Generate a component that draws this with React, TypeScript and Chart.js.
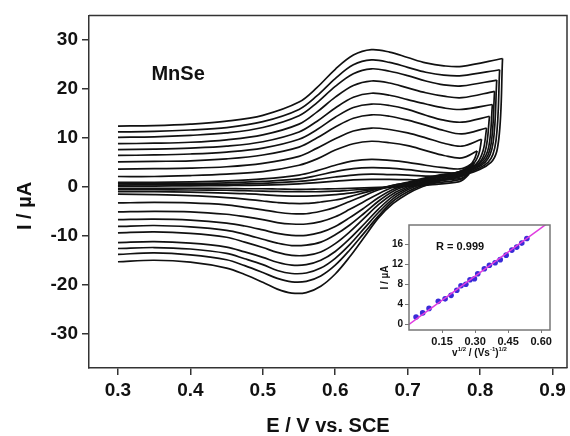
import React, { useEffect, useRef } from "react";
import { Chart, registerables } from "chart.js";
Chart.register(...registerables);

const FONT = "'Liberation Sans', Arial, Helvetica, sans-serif";

// ---- main CV data (E / V vs. SCE, I / µA) ----
const potentialForward = [0.30, 0.35, 0.40, 0.45, 0.50, 0.55, 0.575, 0.60, 0.625, 0.65, 0.675, 0.70, 0.725, 0.75, 0.775];
const potentialReverse = [0.77, 0.74, 0.72, 0.70, 0.68, 0.66, 0.64, 0.62, 0.60, 0.58, 0.56, 0.54, 0.52, 0.50, 0.475, 0.45, 0.40, 0.35, 0.30];

const vertexPotential = [0.831, 0.827, 0.823, 0.820, 0.817, 0.813, 0.809, 0.802, 0.796, 0.792, 0.790, 0.788, 0.786];
const vertexCurrent = [26.2, 23.9, 21.8, 19.5, 16.8, 14.4, 12.0, 9.7, 7.3, 5.0, 4.2, 3.6, 3.0];
const dropPotential = [0.826, 0.822, 0.818, 0.815, 0.812, 0.808, 0.804, 0.798, 0.792, 0.789, 0.787, 0.785, 0.783];
const dropCurrent = [10.0, 9.5, 9.0, 8.6, 8.2, 7.8, 7.3, 6.6, 5.6, 4.3, 3.5, 2.9, 2.3];
const kneePotential = [0.815, 0.811, 0.807, 0.804, 0.801, 0.798, 0.794, 0.789, 0.785, 0.783, 0.781, 0.779, 0.777];
const kneeCurrent = [5.0, 5.0, 5.0, 5.0, 5.0, 4.8, 4.6, 4.4, 4.2, 3.4, 2.6, 2.0, 1.5];

const anodicCurrents = [
  [12.4, 12.5, 12.8, 13.4, 14.6, 17.3, 20.3, 24.0, 26.9, 28.0, 27.5, 26.4, 25.3, 24.7, 24.6],
  [11.2, 11.3, 11.6, 12.1, 13.3, 15.8, 18.6, 22.1, 24.9, 25.9, 25.4, 24.4, 23.4, 22.8, 22.7],
  [10.1, 10.2, 10.5, 11.0, 12.1, 14.5, 17.2, 20.5, 23.1, 24.1, 23.6, 22.7, 21.6, 20.8, 20.6],
  [8.8, 8.9, 9.1, 9.6, 10.6, 12.8, 15.3, 18.3, 20.7, 21.6, 21.2, 20.2, 19.2, 18.5, 18.2],
  [7.6, 7.7, 7.9, 8.3, 9.2, 11.2, 13.4, 16.1, 18.3, 19.1, 18.7, 17.8, 16.9, 16.1, 15.8],
  [6.4, 6.5, 6.7, 7.1, 7.9, 9.7, 11.7, 14.2, 16.2, 16.9, 16.6, 15.8, 14.6, 13.6, 13.2],
  [5.1, 5.2, 5.3, 5.7, 6.5, 8.1, 10.0, 12.2, 14.0, 14.7, 14.4, 13.6, 12.6, 11.5, 10.8],
  [3.6, 3.7, 3.8, 4.1, 4.8, 6.2, 7.9, 9.8, 11.4, 12.0, 11.7, 11.0, 10.0, 8.9, 8.3],
  [2.1, 2.1, 2.3, 2.6, 3.1, 4.4, 5.7, 7.5, 8.8, 9.3, 9.0, 8.4, 7.4, 6.4, 5.9],
  [0.9, 0.9, 1.0, 1.2, 1.6, 2.4, 3.3, 4.4, 5.3, 5.6, 5.4, 5.0, 4.4, 3.9, 3.7],
  [0.6, 0.6, 0.7, 0.8, 1.1, 1.6, 2.3, 3.1, 3.7, 3.9, 3.8, 3.5, 3.1, 2.9, 2.9],
  [0.35, 0.4, 0.4, 0.5, 0.7, 1.1, 1.5, 2.0, 2.4, 2.6, 2.5, 2.4, 2.2, 2.1, 2.3],
  [0.15, 0.15, 0.2, 0.25, 0.35, 0.6, 0.85, 1.15, 1.4, 1.5, 1.5, 1.45, 1.4, 1.5, 1.8],
];

const cathodicCurrents = [
  [2.0, 1.0, 0.0, -1.4, -3.4, -6.3, -10.3, -14.3, -17.8, -20.3, -21.6, -21.7, -20.9, -19.5, -17.9, -16.6, -15.4, -15.0, -15.3],
  [2.2, 1.2, 0.3, -1.0, -2.9, -5.9, -9.4, -12.9, -16.0, -18.2, -19.3, -19.4, -18.7, -17.5, -16.1, -14.9, -13.9, -13.5, -13.8],
  [2.4, 1.4, 0.6, -0.6, -2.4, -5.2, -8.5, -11.8, -14.6, -16.6, -17.6, -17.7, -17.1, -15.9, -14.7, -13.6, -12.7, -12.4, -12.6],
  [2.6, 1.6, 0.8, -0.3, -1.9, -4.5, -7.6, -10.6, -13.2, -15.0, -15.9, -16.0, -15.4, -14.4, -13.3, -12.3, -11.5, -11.2, -11.4],
  [2.8, 1.8, 1.0, 0.0, -1.4, -3.6, -6.4, -9.2, -11.6, -13.3, -14.0, -14.0, -13.4, -12.4, -11.3, -10.3, -9.5, -9.2, -9.4],
  [2.9, 2.0, 1.2, 0.3, -0.9, -2.9, -5.4, -7.8, -9.8, -11.3, -11.9, -12.0, -11.5, -10.7, -9.7, -8.9, -8.2, -7.9, -8.1],
  [3.0, 2.1, 1.4, 0.5, -0.5, -2.2, -4.3, -6.3, -8.1, -9.3, -9.9, -9.9, -9.5, -8.8, -8.0, -7.4, -6.8, -6.6, -6.7],
  [3.0, 2.2, 1.5, 0.7, -0.1, -1.4, -3.0, -4.6, -6.1, -7.1, -7.6, -7.6, -7.3, -6.7, -6.1, -5.6, -5.1, -5.0, -5.1],
  [3.0, 2.3, 1.7, 0.9, 0.3, -0.6, -1.8, -3.0, -4.2, -5.0, -5.5, -5.5, -5.2, -4.7, -4.2, -3.7, -3.3, -3.2, -3.3],
  [2.6, 1.9, 1.4, 0.8, 0.3, -0.4, -1.2, -2.0, -2.7, -3.1, -3.4, -3.4, -3.2, -2.9, -2.5, -2.2, -1.8, -1.6, -1.5],
  [1.9, 1.2, 0.8, 0.4, 0.1, -0.3, -0.8, -1.3, -1.6, -1.8, -1.9, -1.9, -1.8, -1.6, -1.4, -1.3, -1.1, -1.0, -1.0],
  [1.4, 0.8, 0.5, 0.2, 0.0, -0.3, -0.5, -0.7, -0.9, -1.0, -1.0, -1.0, -0.95, -0.9, -0.8, -0.7, -0.65, -0.6, -0.6],
  [1.0, 0.5, 0.3, 0.1, 0.0, -0.1, -0.2, -0.3, -0.4, -0.45, -0.5, -0.5, -0.45, -0.4, -0.4, -0.35, -0.3, -0.3, -0.3],
];

const mainXTicks = [0.3, 0.4, 0.5, 0.6, 0.7, 0.8, 0.9];
const mainYTicks = [-30, -20, -10, 0, 10, 20, 30];
const mainXTitle = "E / V vs. SCE";
const mainYTitle = "I / µA";
const sampleLabel = "MnSe";

// ---- inset data ----
const sqrtScanRate = [0.032, 0.062, 0.091, 0.133, 0.164, 0.191, 0.217, 0.236, 0.258, 0.277, 0.297, 0.312, 0.342, 0.365, 0.391, 0.414, 0.441, 0.467, 0.489, 0.512, 0.535];
const peakCurrent = [1.5, 2.3, 3.2, 4.6, 5.1, 5.8, 6.8, 7.7, 8.0, 8.9, 9.1, 10.1, 11.1, 11.8, 12.3, 12.9, 13.8, 14.8, 15.4, 16.2, 17.1];
const fitX = [0, 0.64];
const fitY = [0, 20.5];
const insetXTicks = [0.15, 0.30, 0.45, 0.60];
const insetYTicks = [0, 4, 8, 12, 16];
const insetYTitle = "I / µA";
const fitLabel = "R = 0.999";

function forwardBranch(k: number) {
  const pts: { x: number; y: number }[] = potentialForward.map((e, i) => ({ x: e, y: anodicCurrents[k][i] }));
  pts.push({ x: vertexPotential[k], y: vertexCurrent[k] });
  return pts;
}

function reverseBranch(k: number) {
  const pts: { x: number; y: number }[] = [
    { x: vertexPotential[k], y: vertexCurrent[k] },
    { x: dropPotential[k], y: dropCurrent[k] },
    { x: kneePotential[k], y: kneeCurrent[k] },
  ];
  potentialReverse.forEach((e, i) => pts.push({ x: e, y: cathodicCurrents[k][i] }));
  return pts;
}

const mainDecor = {
  id: "mainDecor",
  afterDraw(chart: any) {
    const { ctx, chartArea: a } = chart;
    ctx.save();
    ctx.strokeStyle = "#333";
    ctx.lineWidth = 1.5;
    ctx.beginPath();
    ctx.moveTo(a.left, a.top);
    ctx.lineTo(a.right, a.top);
    ctx.lineTo(a.right, a.bottom);
    ctx.stroke();
    ctx.fillStyle = "#111";
    ctx.font = `bold 20px ${FONT}`;
    ctx.textAlign = "center";
    ctx.textBaseline = "middle";
    ctx.fillText(sampleLabel, chart.scales.x.getPixelForValue(0.383), chart.scales.y.getPixelForValue(22.9));
    ctx.translate(25, 206);
    ctx.rotate(-Math.PI / 2);
    ctx.fillText(mainYTitle, 0, 0);
    ctx.restore();
  },
};

const insetDecor = {
  id: "insetDecor",
  afterDraw(chart: any) {
    const { ctx, chartArea: a } = chart;
    ctx.save();
    ctx.strokeStyle = "#777";
    ctx.lineWidth = 1.5;
    ctx.strokeRect(a.left, a.top, a.right - a.left, a.bottom - a.top);
    ctx.fillStyle = "#111";
    ctx.textBaseline = "middle";
    ctx.textAlign = "center";
    ctx.font = `bold 11px ${FONT}`;
    ctx.fillText(fitLabel, chart.scales.x.getPixelForValue(0.232), chart.scales.y.getPixelForValue(15.4));
    const parts: [string, boolean][] = [["v", false], ["1/2", true], [" / (Vs", false], ["-1", true], [")", false], ["1/2", true]];
    const big = `bold 10px ${FONT}`;
    const small = `bold 6px ${FONT}`;
    let total = 0;
    parts.forEach(([t, s]) => { ctx.font = s ? small : big; total += ctx.measureText(t).width; });
    let x = (a.left + a.right) / 2 - total / 2;
    const y = 138;
    ctx.textAlign = "left";
    parts.forEach(([t, s]) => {
      ctx.font = s ? small : big;
      ctx.fillText(t, x, s ? y - 4 : y);
      x += ctx.measureText(t).width;
    });
    ctx.restore();
  },
};

export default function App() {
  const mainRef = useRef<HTMLCanvasElement>(null);
  const insetRef = useRef<HTMLCanvasElement>(null);

  useEffect(() => {
    const tickFont = { family: FONT, size: 19, weight: "bold" as const };
    const lineStyle = { showLine: true, borderColor: "#111", borderWidth: 1.7, pointRadius: 0, tension: 0.35, fill: false };
    const datasets: any[] = [];
    anodicCurrents.forEach((_, k) => {
      datasets.push({ ...lineStyle, data: forwardBranch(k) });
      datasets.push({ ...lineStyle, data: reverseBranch(k) });
    });

    const main = new Chart(mainRef.current!, {
      type: "scatter",
      data: { datasets },
      options: {
        responsive: false,
        devicePixelRatio: 1,
        animation: false,
        layout: { padding: { left: 0, right: 33, top: 14, bottom: 0 } },
        plugins: { legend: { display: false }, tooltip: { enabled: false } },
        scales: {
          x: {
            type: "linear",
            min: 0.26,
            max: 0.92,
            afterFit: (s: any) => { s.height = 68; },
            afterBuildTicks: (s: any) => { s.ticks = mainXTicks.map((v) => ({ value: v })); },
            ticks: { font: tickFont, color: "#111", padding: 4, maxRotation: 0, autoSkip: false, callback: (v: any) => Number(v).toFixed(1) },
            grid: { drawOnChartArea: false, tickLength: 7, color: "#333", lineWidth: 1.5 },
            border: { display: true, color: "#333", width: 1.5 },
            title: { display: true, text: mainXTitle, color: "#111", font: { family: FONT, size: 20, weight: "bold", lineHeight: 1 }, padding: { top: 0, bottom: 0 } },
          },
          y: {
            type: "linear",
            min: -37,
            max: 35,
            afterFit: (s: any) => { s.width = 89; },
            afterBuildTicks: (s: any) => { s.ticks = mainYTicks.map((v) => ({ value: v })); },
            ticks: { font: tickFont, color: "#111", padding: 4, autoSkip: false, callback: (v: any) => String(v) },
            grid: { drawOnChartArea: false, tickLength: 7, color: "#333", lineWidth: 1.5 },
            border: { display: true, color: "#333", width: 1.5 },
          },
        },
      },
      plugins: [mainDecor],
    });

    const inset = new Chart(insetRef.current!, {
      type: "scatter",
      data: {
        datasets: [
          {
            data: fitX.map((x, i) => ({ x, y: fitY[i] })),
            showLine: true,
            borderColor: "#e03ce0",
            borderWidth: 1.5,
            pointRadius: 0,
          },
          {
            data: sqrtScanRate.map((x, i) => ({ x, y: peakCurrent[i] })),
            showLine: false,
            pointRadius: 2.8,
            pointBackgroundColor: "#3a2bd8",
            pointBorderWidth: 0,
          },
        ],
      },
      options: {
        responsive: false,
        devicePixelRatio: 1,
        animation: false,
        layout: { padding: { left: 0, right: 20, top: 10, bottom: 0 } },
        plugins: { legend: { display: false }, tooltip: { enabled: false } },
        scales: {
          x: {
            type: "linear",
            min: 0,
            max: 0.64,
            afterFit: (s: any) => { s.height = 35; },
            afterBuildTicks: (s: any) => { s.ticks = insetXTicks.map((v) => ({ value: v })); },
            ticks: { font: { family: FONT, size: 11, weight: "bold" }, color: "#111", padding: 2, maxRotation: 0, autoSkip: false, callback: (v: any) => Number(v).toFixed(2) },
            grid: { drawOnChartArea: false, tickLength: 3, color: "#777", lineWidth: 1 },
            border: { display: false },
          },
          y: {
            type: "linear",
            min: -1.1,
            max: 19.8,
            afterFit: (s: any) => { s.width = 49; },
            afterBuildTicks: (s: any) => { s.ticks = insetYTicks.map((v) => ({ value: v })); },
            ticks: { font: { family: FONT, size: 10, weight: "bold" }, color: "#111", padding: 2, autoSkip: false, callback: (v: any) => String(v) },
            grid: { drawOnChartArea: false, tickLength: 4, color: "#777", lineWidth: 1 },
            border: { display: false },
            title: { display: true, text: insetYTitle, color: "#111", font: { family: FONT, size: 10, weight: "bold", lineHeight: 1 }, padding: { top: 20, bottom: 0 } },
          },
        },
      },
      plugins: [insetDecor],
    });

    return () => {
      main.destroy();
      inset.destroy();
    };
  }, []);

  return (
    <div style={{ position: "fixed", left: 0, top: 0, width: 570, height: 436, overflow: "hidden", background: "#fff" }}>
      <canvas ref={mainRef} width={600} height={436} style={{ position: "absolute", left: 0, top: 0, width: 600, height: 436 }} />
      <canvas ref={insetRef} width={210} height={150} style={{ position: "absolute", left: 360, top: 215, width: 210, height: 150 }} />
    </div>
  );
}
